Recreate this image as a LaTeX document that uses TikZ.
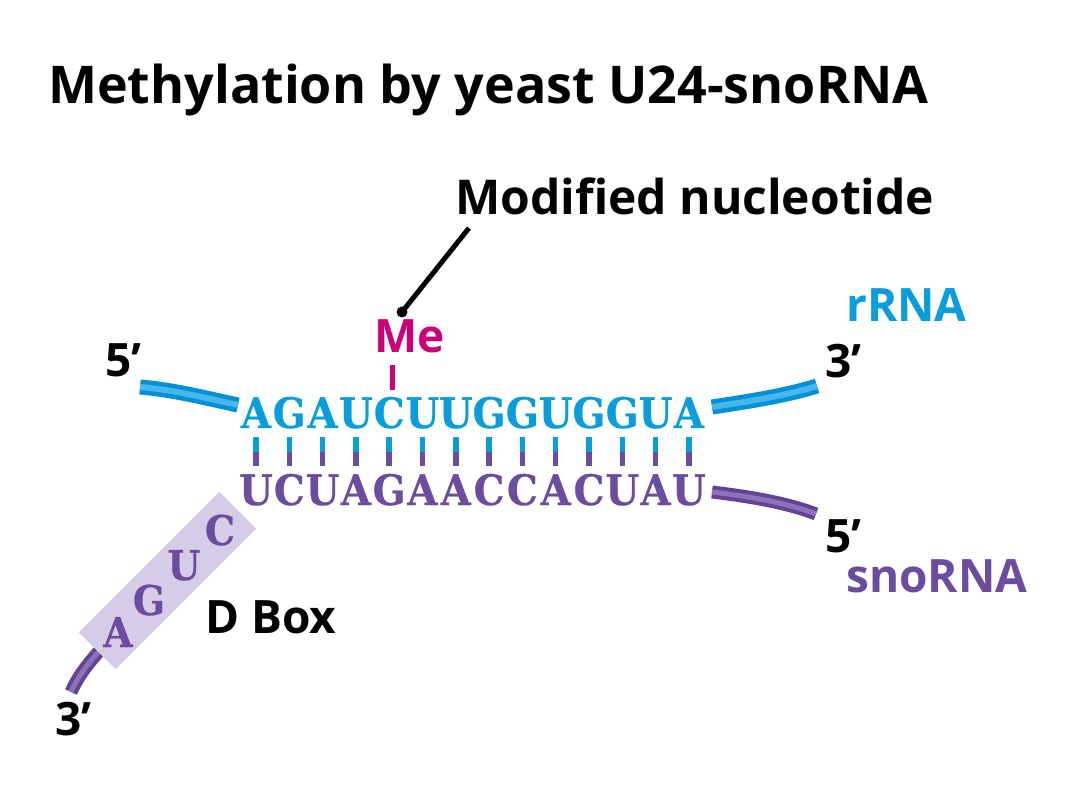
\documentclass[tikz,border=0pt]{standalone}
\usepackage{fontspec}
\setmainfont{Open Sans}
\newfontfamily\seqfont{DejaVu Serif}[FakeStretch=0.92,FakeBold=0.6]
\definecolor{rblue}{RGB}{10,157,220}
\definecolor{rblueD}{RGB}{0,145,212}
\definecolor{rblueL}{RGB}{70,182,236}
\definecolor{spurple}{RGB}{107,76,158}
\definecolor{spurpleD}{RGB}{98,68,150}
\definecolor{spurpleL}{RGB}{140,114,184}
\definecolor{mmag}{RGB}{204,0,119}
\definecolor{boxfill}{RGB}{213,204,232}
\begin{document}
\begin{tikzpicture}[x=1pt,y=-1pt,
  lbl/.style={inner sep=0pt, anchor=base west, font=\bfseries\fontsize{46}{46}\selectfont},
  seqtop/.style={inner sep=0pt, anchor=base, text=rblue, font=\seqfont\bfseries\fontsize{42}{42}\selectfont},
  seqbot/.style={seqtop, text=spurple},
  boxletter/.style={seqtop, text=spurple, font=\seqfont\bfseries\fontsize{41}{41}\selectfont},
  tubeblue/.style={line width=4.5pt, draw=rblueD, double=rblueL, double distance=6pt},
  tubepurple/.style={line width=4pt, draw=spurpleD, double=spurpleL, double distance=5pt},
  tickb/.style={draw=rblue, line width=5.5pt},
  tickp/.style={draw=spurple, line width=5.5pt}]
\useasboundingbox (0,0) rectangle (1080,810);

% title
\node[lbl, font=\bfseries\fontsize{52}{52}\selectfont] (title) at (48,104) {Methylation by yeast U24-snoRNA};
\node[lbl, font=\bfseries\fontsize{48}{48}\selectfont] (modnuc) at (455,215) {Modified nucleotide};

% sequences
\foreach \c [count=\i from 0] in {A,G,A,U,C,U,U,G,G,U,G,G,U,A}
  \node[seqtop] (t\i) at ({256+33.3*\i},428) {\c};
\foreach \c [count=\i from 0] in {U,C,U,A,G,A,A,C,C,A,C,U,A,U}
  \node[seqbot] (b\i) at ({256+33.3*\i},505) {\c};
\foreach \i in {0,...,13}{
  \draw[tickb] (t\i.base) ++(0,9) -- ++(0,15.5);
  \draw[tickp] (b\i.base) ++(0,-53) -- ++(0,14);
}

% Me
\node[lbl, text=mmag] (me) at (374,353) {Me};
\draw[draw=mmag, line width=5pt] (t4.base) ++(3,-63) -- ++(0,25);
\coordinate (ldot) at (402,312);
\coordinate (ltop) at (469,228);
\draw[line width=5pt] (ldot) -- (ltop);
\fill (ldot) circle (5.5);

% rRNA tubes
\coordinate (rl1) at (140,387); \coordinate (rl2) at (238,405);
\coordinate (rr1) at (712,407); \coordinate (rr2) at (817,386);
\draw[tubeblue] (rl1) .. controls (175,390) and (205,398) .. (rl2);
\draw[tubeblue] (rr1) .. controls (745,402) and (785,396) .. (rr2);

% snoRNA tubes
\coordinate (sr1) at (712,492); \coordinate (sr2) at (816,514);
\draw[tubepurple] (sr1) .. controls (745,496) and (785,502) .. (sr2);
\coordinate (sd1) at (112,638); \coordinate (sd2) at (71,692);
\draw[tubepurple] (sd1) .. controls (94,656) and (80,672) .. (sd2);

% D box
\node[fill=boxfill, rotate=45, minimum width=199pt, minimum height=52pt, inner sep=0pt] (dbox) at (167.5,580.5) {};
\node[boxletter] (da) at (118,647) {A};
\node[boxletter] (dg) at (149,615) {G};
\node[boxletter] (du) at (184,580) {U};
\node[boxletter] (dc) at (220,545) {C};
\node[lbl] (dboxlbl) at (205,633) {D Box};

% end labels
\node[lbl] (p5l) at (105,377) {5’};
\node[lbl] (p3r) at (825,378) {3’};
\node[lbl, text=rblue] (rrna) at (846,322) {rRNA};
\node[lbl] (p5r) at (825,552) {5’};
\node[lbl, text=spurple] (snorna) at (846,592) {snoRNA};
\node[lbl] (p3l) at (55,735) {3’};
\end{tikzpicture}
\end{document}
